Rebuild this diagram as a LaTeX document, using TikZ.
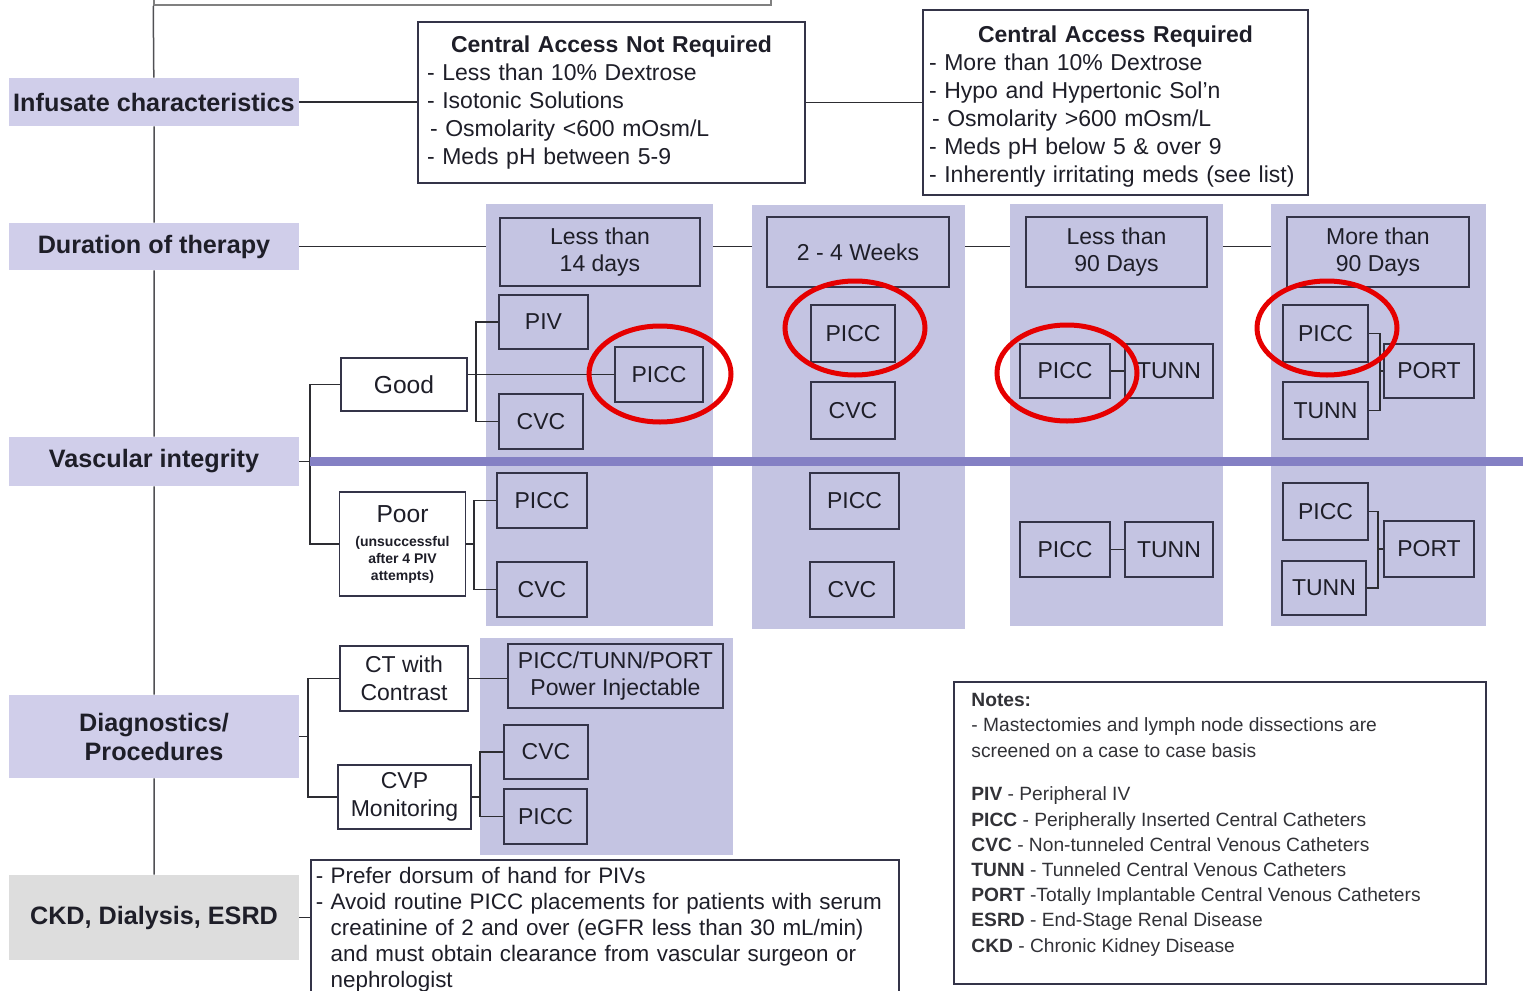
\documentclass[tikz,border=0pt]{standalone}
\usepackage{fontspec}
\setmainfont{Liberation Sans}
\usetikzlibrary{calc}

\newlength{\du}
\setlength{\du}{0.5pt}

\tikzset{
  catbox/.style={fill=catfill, minimum width=290\du, inner sep=0pt, align=center,
    text=textcol, font=\fontsize{12.6}{14.5}\selectfont\bfseries},
  colbox/.style={fill=colfill, inner sep=0pt},
  devbox/.style={draw=boxline, line width=1.5\du, fill=colfill, inner sep=0pt, align=center,
    text=textcol, font=\fontsize{11.5}{13.5}\selectfont},
  choicebox/.style={devbox, fill=white, font=\fontsize{11.5}{14}\selectfont},
  listbox/.style={draw=boxline, line width=1.5\du, fill=white, inner sep=0pt, align=left,
    text=textcol, font=\fontsize{11.5}{14}\selectfont},
  notetext/.style={inner sep=0pt, align=left, text=notecol, font=\fontsize{9.6}{12.6}\selectfont},
  link/.style={draw=linkcol, line width=1.5\du},
  spine/.style={draw=spinecol, line width=1.5\du},
  divider/.style={draw=divcol, line width=9\du},
  ring/.style={draw=ringred, line width=5\du}
}

\begin{document}
\begin{tikzpicture}
\pgftransformxscale{1.000000}
\pgftransformyscale{-1.000000}
\definecolor{catfill}{RGB}{208,206,234}
\definecolor{colfill}{RGB}{196,196,226}
\definecolor{ckdfill}{RGB}{221,221,221}
\definecolor{boxline}{RGB}{52,52,72}
\definecolor{linkcol}{RGB}{45,45,50}
\definecolor{spinecol}{RGB}{80,80,84}
\definecolor{divcol}{RGB}{132,128,196}
\definecolor{ringred}{RGB}{230,0,0}
\definecolor{textcol}{RGB}{30,30,40}
\definecolor{notecol}{RGB}{50,50,55}
\useasboundingbox (0\du,0\du) rectangle (1523\du,991\du);
\clip (0\du,0\du) rectangle (1523\du,991\du);

% left column of categories
\node[draw=gray, line width=1.5\du, minimum width=617\du, minimum height=45\du, inner sep=0pt] (topbox) at (462.5\du,-17.5\du) {};
\node[catbox, minimum height=48\du] (infus) at (154\du,102\du) {Infusate characteristics};
\node[catbox, minimum height=47\du] (dur) at (154\du,246.5\du) {Duration of therapy};
\node[catbox, minimum height=49\du] (vasc) at (154\du,461.5\du) {Vascular integrity};
\node[catbox, minimum height=83\du] (diag) at (154\du,736.5\du) {Diagnostics/\\Procedures};
\node[catbox, fill=ckdfill, minimum height=85\du] (ckd) at (154\du,917.5\du) {CKD, Dialysis, ESRD};
\draw[spine] (topbox.south west) -- (infus) -- (dur) -- (vasc) -- (diag) -- (ckd);

% infusate
\node[listbox, text width=369\du, inner xsep=9\du, minimum height=161\du] (canr) at (611.5\du,102.5\du) {%
\makebox[\linewidth]{\bfseries Central Access Not Required}\\
- Less than 10\% Dextrose\\
- Isotonic Solutions\\
\hspace*{3\du}- Osmolarity <600 mOsm/L\\
- Meds pH between 5-9};
\node[listbox, text width=373\du, inner xsep=6\du, minimum height=185\du] (car) at (1115.5\du,102.5\du) {%
\rule{0pt}{25\du}\makebox[\linewidth]{\bfseries Central Access Required}\\
- More than 10\% Dextrose\\
- Hypo and Hypertonic Sol'n\\
\hspace*{3\du}- Osmolarity >600 mOsm/L\\
- Meds pH below 5 \& over 9\\
- Inherently irritating meds (see list)};
\draw[link] (infus.east) -- (infus.east -| canr.west);
\draw[link] (canr.east) -- (canr.east -| car.west);

% duration columns
\node[colbox, minimum width=227\du, minimum height=422\du] (col1) at (599.5\du,415\du) {};
\node[colbox, minimum width=213\du, minimum height=424\du] (col2) at (858.5\du,417\du) {};
\node[colbox, minimum width=213\du, minimum height=422\du] (col3) at (1116.5\du,415\du) {};
\node[colbox, minimum width=215\du, minimum height=422\du] (col4) at (1378.5\du,415\du) {};
\draw[link] (dur.east) -- (dur.east -| col1.west);
\draw[link] (col1.east |- dur.east) -- (dur.east -| col2.west);
\draw[link] (col2.east |- dur.east) -- (dur.east -| col3.west);
\draw[link] (col3.east |- dur.east) -- (dur.east -| col4.west);

\node[devbox, minimum width=200\du, minimum height=68\du] (dless14) at (600\du,252\du) {Less than\\14 days};
\node[devbox, minimum width=182\du, minimum height=70\du] (dweeks) at (858\du,252\du) {2 - 4 Weeks};
\node[devbox, minimum width=181\du, minimum height=70\du] (dless90) at (1116.5\du,252\du) {Less than\\90 Days};
\node[devbox, minimum width=182\du, minimum height=70\du] (dmore90) at (1378\du,252\du) {More than\\90 Days};

% vascular integrity
\coordinate (vj) at (310\du,461.5\du);
\coordinate (divend) at (1530\du,460\du);
\node[choicebox, minimum width=126\du, minimum height=53\du, font=\fontsize{12.3}{14}\selectfont] (good) at (404\du,384.5\du) {Good};
\node[choicebox, minimum width=126\du, minimum height=104\du, font=\fontsize{12.3}{12}\selectfont] (poor) at (402.5\du,544\du) {Poor\\\parbox[t]{120\du}{\centering\fontsize{7}{8.5}\selectfont\bfseries (unsuccessful\\after 4 PIV\\attempts)}};
\draw[link] (vasc.east) -- (vj);
\draw[link] (good.west) -| (vj);
\draw[link] (poor.west) -| (vj);
\draw[divider] (vj) -- (vj -| divend);

% less than 14 days
\node[devbox, minimum width=89\du, minimum height=54\du] (piv) at (543.5\du,322\du) {PIV};
\node[devbox, minimum width=88\du, minimum height=55\du] (picc1) at (659\du,374.5\du) {PICC};
\node[devbox, minimum width=84\du, minimum height=55\du] (cvc1) at (541\du,421.5\du) {CVC};
\node[devbox, minimum width=90\du, minimum height=55\du] (picc1p) at (542\du,500.5\du) {PICC};
\node[devbox, minimum width=90\du, minimum height=55\du] (cvc1p) at (542\du,589.5\du) {CVC};
\coordinate (gj) at (476\du,374.5\du);
\coordinate (pj) at (474\du,544\du);
\draw[link] (good.east |- picc1.west) -- (picc1.west);
\draw[link] (piv.west) -| (gj) |- (cvc1.west);
\draw[link] (poor.east) -- (pj);
\draw[link] (picc1p.west) -| (pj) |- (cvc1p.west);

% 2 - 4 weeks
\node[devbox, minimum width=84\du, minimum height=57\du] (picc2) at (853\du,333.5\du) {PICC};
\node[devbox, minimum width=84\du, minimum height=57\du] (cvc2) at (853\du,410.5\du) {CVC};
\node[devbox, minimum width=89\du, minimum height=56\du] (picc2p) at (854.5\du,501\du) {PICC};
\node[devbox, minimum width=84\du, minimum height=55\du] (cvc2p) at (852\du,589.5\du) {CVC};

% less than 90 days
\node[devbox, minimum width=90\du, minimum height=54\du] (picc3) at (1065\du,371\du) {PICC};
\node[devbox, minimum width=88\du, minimum height=54\du] (tunn3) at (1169\du,371\du) {TUNN};
\node[devbox, minimum width=90\du, minimum height=55\du] (picc3p) at (1065\du,549.5\du) {PICC};
\node[devbox, minimum width=88\du, minimum height=55\du] (tunn3p) at (1169\du,549.5\du) {TUNN};
\draw[link] (picc3.east) -- (tunn3.west);
\draw[link] (picc3p.east) -- (tunn3p.west);

% more than 90 days
\node[devbox, minimum width=85\du, minimum height=57\du] (picc4) at (1325.5\du,333.5\du) {PICC};
\node[devbox, minimum width=85\du, minimum height=57\du] (tunn4) at (1325.5\du,410.5\du) {TUNN};
\node[devbox, minimum width=90\du, minimum height=54\du] (port4) at (1429\du,371\du) {PORT};
\node[devbox, minimum width=85\du, minimum height=57\du] (picc4p) at (1325.5\du,511.5\du) {PICC};
\node[devbox, minimum width=84\du, minimum height=54\du] (tunn4p) at (1324\du,588\du) {TUNN};
\node[devbox, minimum width=90\du, minimum height=56\du] (port4p) at (1429\du,549\du) {PORT};
\coordinate (j4) at (1380\du,371\du);
\coordinate (j4p) at (1378\du,549\du);
\draw[link] (picc4.east) -| (j4) |- (tunn4.east);
\draw[link] (j4) -- (port4.west);
\draw[link] (picc4p.east) -| (j4p) |- (tunn4p.east);
\draw[link] (j4p) -- (port4p.west);

% red rings
\draw[ring] (660\du,374\du) ellipse [x radius=71\du, y radius=48\du];
\draw[ring] (855\du,328\du) ellipse [x radius=70\du, y radius=47\du];
\draw[ring] (1067\du,373\du) ellipse [x radius=70\du, y radius=48\du];
\draw[ring] (1327\du,328\du) ellipse [x radius=70\du, y radius=47\du];

% diagnostics
\node[colbox, minimum width=253\du, minimum height=217\du] (col5) at (606.5\du,746.5\du) {};
\node[choicebox, minimum width=128\du, minimum height=65\du] (ct) at (404\du,678.5\du) {CT with\\Contrast};
\node[choicebox, minimum width=133\du, minimum height=64\du] (cvp) at (404.5\du,797\du) {CVP\\Monitoring};
\node[devbox, minimum width=215\du, minimum height=64\du] (power) at (615.5\du,676\du) {PICC/TUNN/PORT\\Power Injectable};
\node[devbox, minimum width=84\du, minimum height=54\du] (cvc5) at (546\du,752\du) {CVC};
\node[devbox, minimum width=83\du, minimum height=55\du] (picc5) at (545.5\du,816.5\du) {PICC};
\coordinate (dj) at (308\du,736.5\du);
\coordinate (cj) at (480\du,797\du);
\draw[link] (diag.east) -- (dj);
\draw[link] (ct.west) -| (dj) |- (cvp.west);
\draw[link] (ct.east) -- (ct.east -| power.west);
\draw[link] (cvp.east) -- (cj);
\draw[link] (cvc5.west) -| (cj) |- (picc5.west);

% ckd
\node[listbox, anchor=north west, text width=586\du, inner xsep=1\du, inner ysep=8\du, font=\fontsize{11.2}{13}\selectfont] (cknote) at (310\du,859\du) {%
\hspace*{4\du}- Prefer dorsum of hand for PIVs\\
\hspace*{4\du}- Avoid routine PICC placements for patients with serum\\
\hspace*{4\du}\phantom{- }creatinine of 2 and over (eGFR less than 30 mL/min)\\
\hspace*{4\du}\phantom{- }and must obtain clearance from vascular surgeon or\\
\hspace*{4\du}\phantom{- }nephrologist};
\draw[link] (ckd.east) -- (ckd.east -| cknote.west);

% notes
\node[draw=boxline, line width=1.5\du, fill=white, anchor=north west, minimum width=532\du, minimum height=302\du, inner sep=0pt] (notes) at (953\du,681\du) {};
\node[notetext, anchor=north west] (notestext) at (971\du,693\du) {%
\textbf{Notes:}\\
- Mastectomies and lymph node dissections are\\
screened on a case to case basis\\[18.7\du]
\textbf{PIV} - Peripheral IV\\
\textbf{PICC} - Peripherally Inserted Central Catheters\\
\textbf{CVC} - Non-tunneled Central Venous Catheters\\
\textbf{TUNN} - Tunneled Central Venous Catheters\\
\textbf{PORT} -Totally Implantable Central Venous Catheters\\
\textbf{ESRD} - End-Stage Renal Disease\\
\textbf{CKD} - Chronic Kidney Disease};
\end{tikzpicture}
\end{document}
